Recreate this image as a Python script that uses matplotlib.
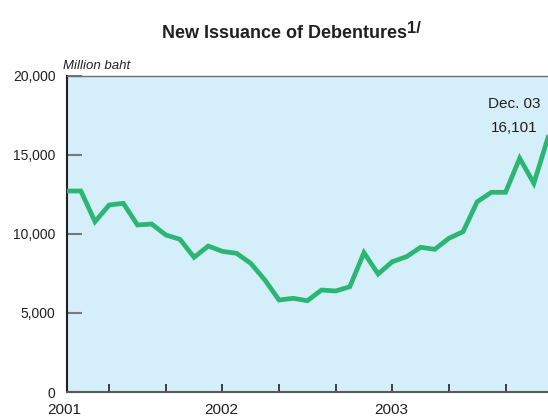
import matplotlib
matplotlib.use("Agg")
import matplotlib.pyplot as plt
import matplotlib.transforms as mtransforms

plt.rcParams['font.family'] = ['Liberation Sans', 'DejaVu Sans']

# monthly new issuance, Feb 2001 - Dec 2003 (million baht)
issuance = [12722, 12722, 10780, 11835, 11943, 10570, 10633, 9937, 9665, 8525,
            9240, 8900, 8778, 8145, 7089, 5823, 5930, 5778, 6456, 6392,
            6665, 8817, 7468, 8247, 8563, 9158, 9032, 9728, 10146, 12044,
            12639, 12639, 14791, 13209, 16101]
month_ticks = [3, 7, 11, 15, 19, 23, 27, 31]
year_labels = ["2001", "2002", "2003"]
year_pos = [-0.2, 10.9, 22.9]
y_ticks = [0, 5000, 10000, 15000, 20000]
last_label = "Dec. 03"

text_col = "#231f20"
line_col = "#2bb673"
bg_col = "#d4eefa"

fig = plt.figure(figsize=(5.48, 4.16), dpi=100)
ax = fig.add_axes([66.7 / 548, 1 - 392 / 416, 1 - 66.7 / 548, (392 - 76) / 416])
ax.set_facecolor(bg_col)

x = list(range(len(issuance)))
ax.plot(x, issuance, color=line_col, lw=3.4, solid_joinstyle="miter", zorder=3)

ax.set_xlim(0, len(issuance) - 1)
ax.set_ylim(0, 20000)

ax.set_yticks(y_ticks)
ax.set_yticklabels([f"{v:,}" for v in y_ticks])
ax.tick_params(axis="y", direction="in", length=11, width=1.5, color="#77787b",
               pad=8, labelsize=10, labelcolor=text_col)

ax.set_xticks(month_ticks)
ax.set_xticklabels([])
ax.tick_params(axis="x", direction="in", length=6, width=1.2, color=text_col)

btrans = mtransforms.blended_transform_factory(ax.transData, ax.transAxes)
for pos, lab in zip(year_pos, year_labels):
    ax.text(pos, -0.036, lab, transform=btrans, ha="center", va="top",
            fontsize=11, color=text_col, clip_on=False)

ax.spines["right"].set_visible(False)
ax.spines["left"].set_color(text_col)
ax.spines["left"].set_linewidth(1.5)
ax.spines["bottom"].set_color("#58595b")
ax.spines["bottom"].set_linewidth(1.5)
ax.spines["top"].set_color("#6d6e71")
ax.spines["top"].set_linewidth(1.0)

# value label for the latest month
last = issuance[-1]
ax.annotate(f"{last:,}", xy=(x[-1], last), xytext=(-34, 10), textcoords="offset pixels",
            ha="center", va="center", fontsize=11, color=text_col)
ax.annotate(last_label, xy=(x[-1], last), xytext=(-34, 34), textcoords="offset pixels",
            ha="center", va="center", fontsize=11, color=text_col)

ax.text(-0.008, 1.012, "Million baht", transform=ax.transAxes, ha="left", va="bottom",
        fontsize=9.5, style="italic", color=text_col)

title = fig.text(284 / 548, 1 - 38 / 416, "New Issuance of Debentures", ha="center",
                 va="baseline", fontsize=13, fontweight="bold", color=text_col)
fig.canvas.draw()
bb = title.get_window_extent(fig.canvas.get_renderer())
fig.text((bb.x1 + 1) / 548, 1 - 33 / 416, "1/", ha="left", va="baseline",
         fontsize=12, fontweight="bold", color=text_col)

fig.savefig("out.png", dpi=100)
